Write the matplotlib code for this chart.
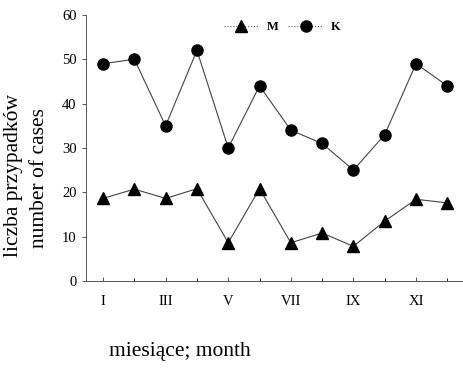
import matplotlib
matplotlib.use("Agg")
import matplotlib.pyplot as plt
from matplotlib.lines import Line2D

months = list(range(1, 13))
tick_months = [1, 3, 5, 7, 9, 11]
tick_labels = ["I", "III", "V", "VII", "IX", "XI"]
cases_m = [18.6, 20.7, 18.6, 20.8, 8.6, 20.8, 8.6, 10.8, 7.8, 13.5, 18.4, 17.6]
cases_k = [49, 50, 35, 52, 30, 44, 34, 31, 25, 33, 49, 44]

plt.rcParams["font.family"] = ["Liberation Serif", "DejaVu Serif"]

fig = plt.figure(figsize=(4.63, 3.74), dpi=100)
ax = fig.add_axes([0.186, 0.249, 0.814, 0.711])

ax.plot(months, cases_k, "-", color="#444444", lw=0.8,
        marker="o", ms=8, mfc="black", mec="black")
ax.plot(months, cases_m, "-", color="#444444", lw=0.8,
        marker="^", ms=8, mfc="black", mec="black")

ax.set_xlim(0.46, 12.5)
ax.set_ylim(0, 60)
ax.set_yticks([0, 10, 20, 30, 40, 50, 60])
ax.set_xticks(tick_months)
ax.set_xticklabels(tick_labels)
ax.set_xticks(months, minor=True)
ax.tick_params(axis="both", labelsize=10.5, length=3, width=0.7, color="#555555")
ax.tick_params(axis="x", which="both", direction="in", pad=10)
ax.tick_params(axis="x", which="minor", length=2)
ax.tick_params(axis="y", direction="out", pad=4)
for s in ["top", "right"]:
    ax.spines[s].set_visible(False)
for s in ["left", "bottom"]:
    ax.spines[s].set_linewidth(0.7)
    ax.spines[s].set_color("#555555")

handles = [
    Line2D([], [], color="#666666", lw=0.8, ls=":", marker="^", ms=8,
           mfc="black", mec="black"),
    Line2D([], [], color="#666666", lw=0.8, ls=":", marker="o", ms=8,
           mfc="black", mec="black"),
]
ax.legend(handles, ["M", "K"], ncol=2, frameon=False, loc="upper center",
          bbox_to_anchor=(0.52, 1.02), handlelength=2.8, columnspacing=0.8,
          handletextpad=0.6, prop={"size": 9, "weight": "bold"})

fig.text(0.03, 0.53, "liczba przypadków", rotation=90, ha="center",
         va="center", fontsize=15.5)
fig.text(0.086, 0.525, "number of cases", rotation=90, ha="center",
         va="center", fontsize=15.5)
fig.text(0.389, 0.06, "miesiące; month", ha="center", va="center", fontsize=15.5)

fig.savefig("out.png", dpi=100)
